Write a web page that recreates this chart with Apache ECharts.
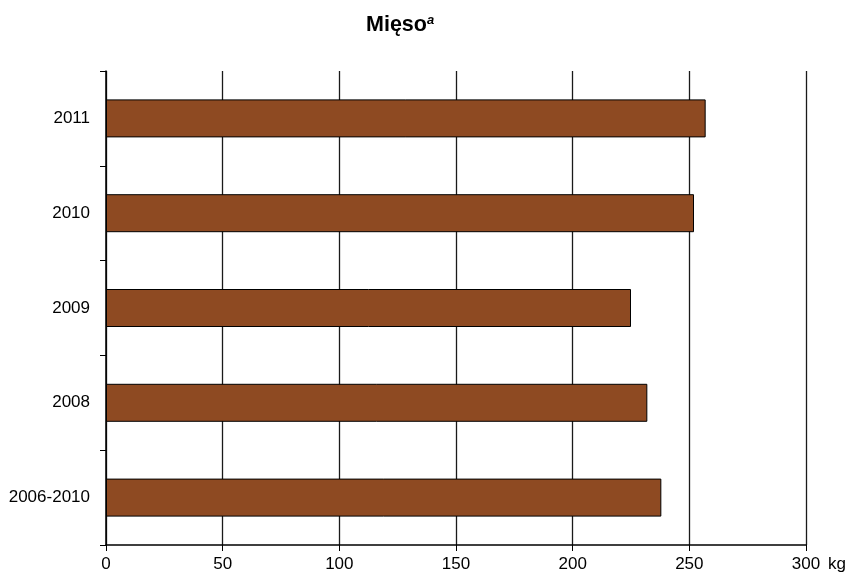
<!DOCTYPE html>
<html>
<head>
<meta charset="utf-8">
<script src="https://cdn.jsdelivr.net/npm/echarts@6/dist/echarts.min.js"></script>
<style>html,body{margin:0;padding:0;background:#fff;}#c{width:853px;height:577px;}</style>
</head>
<body>
<div id="c"></div>
<script>
var categories = ['2006-2010', '2008', '2009', '2010', '2011'];
var values = [238, 232, 225, 252, 257];
var xTicks = [0, 50, 100, 150, 200, 250, 300];

var chart = echarts.init(document.getElementById('c'), null, {renderer: 'canvas'});
var font = '"Liberation Sans", Arial, sans-serif';
chart.setOption({
  animation: false,
  backgroundColor: '#ffffff',
  title: {
    text: '{m|Mięso}{s|a}',
    left: 361,
    top: 9,
    textStyle: {
      rich: {
        m: {fontFamily: font, fontSize: 21.5, fontWeight: 'bold', color: '#000'},
        s: {fontFamily: font, fontSize: 13, fontWeight: 'bold', fontStyle: 'italic', color: '#000', verticalAlign: 'top', padding: [0, 0, 8, 0]}
      }
    }
  },
  grid: {left: 106, right: 47, top: 71, bottom: 32, containLabel: false},
  xAxis: {
    type: 'value',
    min: xTicks[0],
    max: xTicks[xTicks.length - 1],
    interval: 50,
    name: 'kg',
    nameLocation: 'end',
    nameGap: 22,
    nameTextStyle: {fontFamily: font, fontSize: 17, color: '#000', verticalAlign: 'top', padding: [11, 0, 0, 0]},
    axisLine: {show: true, lineStyle: {color: '#000', width: 1.5}},
    axisTick: {show: true, length: 6, lineStyle: {color: '#000'}},
    axisLabel: {fontFamily: font, fontSize: 17, color: '#000', margin: 11},
    splitLine: {show: true, lineStyle: {color: '#1a1a1a', width: 1.3}}
  },
  yAxis: {
    type: 'category',
    data: categories,
    axisLine: {show: true, lineStyle: {color: '#000', width: 1.5}},
    axisTick: {show: true, length: 6, lineStyle: {color: '#000'}},
    axisLabel: {fontFamily: font, fontSize: 17, color: '#000', margin: 16},
    splitLine: {show: false}
  },
  series: [{
    type: 'bar',
    data: values,
    barWidth: 38,
    itemStyle: {color: '#8E4A22', borderColor: '#000', borderWidth: 1}
  }]
});
</script>
</body>
</html>
